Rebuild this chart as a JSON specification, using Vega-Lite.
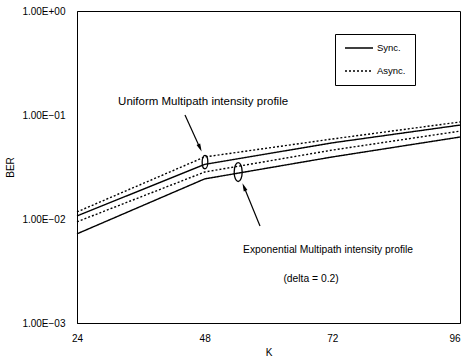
{
  "$schema": "https://vega.github.io/schema/vega-lite/v6.json",
  "width": 383,
  "height": 312,
  "autosize": {"type": "none"},
  "padding": {"left": 77, "top": 11, "right": 4, "bottom": 38},
  "background": "white",
  "config": {
    "font": "Liberation Sans",
    "view": {"stroke": "black", "strokeWidth": 1},
    "axis": {"domainColor": "black", "labelColor": "black", "titleColor": "black", "grid": false, "ticks": false, "labelFontSize": 10, "titleFontSize": 10, "titleFontWeight": "normal", "labelFlush": false}
  },
  "datasets": {
    "lines": [
      {"profile": "Uniform", "type": "Sync.", "K": 24, "BER": 0.0107},
      {"profile": "Uniform", "type": "Sync.", "K": 48, "BER": 0.0335},
      {"profile": "Uniform", "type": "Sync.", "K": 72, "BER": 0.054},
      {"profile": "Uniform", "type": "Sync.", "K": 96, "BER": 0.08},
      {"profile": "Uniform", "type": "Async.", "K": 24, "BER": 0.0117},
      {"profile": "Uniform", "type": "Async.", "K": 48, "BER": 0.0395},
      {"profile": "Uniform", "type": "Async.", "K": 72, "BER": 0.0588},
      {"profile": "Uniform", "type": "Async.", "K": 96, "BER": 0.0857},
      {"profile": "Exponential", "type": "Sync.", "K": 24, "BER": 0.0072},
      {"profile": "Exponential", "type": "Sync.", "K": 48, "BER": 0.0243},
      {"profile": "Exponential", "type": "Sync.", "K": 72, "BER": 0.0395},
      {"profile": "Exponential", "type": "Sync.", "K": 96, "BER": 0.0614},
      {"profile": "Exponential", "type": "Async.", "K": 24, "BER": 0.0094},
      {"profile": "Exponential", "type": "Async.", "K": 48, "BER": 0.0283},
      {"profile": "Exponential", "type": "Async.", "K": 72, "BER": 0.046},
      {"profile": "Exponential", "type": "Async.", "K": 96, "BER": 0.07}
    ],
    "labels": [
      {"K": 47.7, "BER": 0.1334, "label": "Uniform Multipath intensity profile"},
      {"K": 71.2, "BER": 0.00503, "label": "Exponential Multipath intensity profile"},
      {"K": 68.0, "BER": 0.00265, "label": "(delta = 0.2)"}
    ],
    "arrows": [
      {"K": 44.3, "BER": 0.1, "K2": 47.12, "BER2": 0.0482, "angle": 156},
      {"K": 58.4, "BER": 0.00857, "K2": 55.4, "BER2": 0.0203, "angle": 337}
    ],
    "ellipses": [
      {"K": 48.06, "BER": 0.0353, "size": 180},
      {"K": 54.3, "BER": 0.0283, "size": 360}
    ]
  },
  "layer": [
    {
      "data": {"name": "lines"},
      "mark": {"type": "line", "color": "black", "strokeWidth": 1.4},
      "encoding": {
        "x": {"field": "K", "type": "quantitative", "scale": {"domain": [24, 96], "nice": false, "zero": false}, "axis": {"values": [24, 48, 72, 96], "title": "K", "labelPadding": 10, "titlePadding": 4, "labelAlign": {"expr": "datum.value == 96 ? 'right' : 'center'"}}},
        "y": {"field": "BER", "type": "quantitative", "scale": {"type": "log", "domain": [0.001, 1], "nice": false}, "axis": {"values": [0.001, 0.01, 0.1, 1], "title": "BER", "labelPadding": 12, "titlePadding": 6, "labelExpr": "'1.00E' + (datum.value >= 0.5 ? '+00' : '\u22120' + format(-log(datum.value)/LN10, '.0f'))"}},
        "strokeDash": {"field": "type", "type": "nominal", "scale": {"domain": ["Sync.", "Async."], "range": [[1, 0], [2, 2]]},
          "legend": {"title": null, "orient": "none", "legendX": 258, "legendY": 23, "strokeColor": "black", "padding": 9, "rowPadding": 13, "clipHeight": 10, "symbolType": "stroke", "symbolSize": 784, "symbolStrokeColor": "black", "symbolStrokeWidth": 1.4, "labelFontSize": 9.5, "labelColor": "black", "labelOffset": 3}},
        "detail": {"field": "profile"}
      }
    },
    {
      "data": {"name": "labels"},
      "mark": {"type": "text", "color": "black", "align": "center", "baseline": "middle"},
      "encoding": {
        "x": {"field": "K", "type": "quantitative"},
        "y": {"field": "BER", "type": "quantitative"},
        "text": {"field": "label"},
        "size": {"condition": {"test": "datum.label == 'Uniform Multipath intensity profile'", "value": 11.5}, "value": 10.3}
      }
    },
    {
      "data": {"name": "arrows"},
      "mark": {"type": "rule", "color": "black", "strokeWidth": 1.2},
      "encoding": {
        "x": {"field": "K", "type": "quantitative"},
        "y": {"field": "BER", "type": "quantitative"},
        "x2": {"field": "K2"},
        "y2": {"field": "BER2"}
      }
    },
    {
      "data": {"name": "arrows"},
      "mark": {"type": "point", "shape": "M0,-1 L0.5,1 L-0.5,1 Z", "filled": true, "color": "black", "size": 64, "opacity": 1},
      "encoding": {
        "x": {"field": "K2", "type": "quantitative"},
        "y": {"field": "BER2", "type": "quantitative"},
        "angle": {"field": "angle", "type": "quantitative", "scale": null}
      }
    },
    {
      "data": {"name": "ellipses"},
      "mark": {"type": "point", "shape": "M0,-1 A0.42,1 0 1,1 0,1 A0.42,1 0 1,1 0,-1 Z", "filled": false, "color": "black", "strokeWidth": 1.3, "opacity": 1},
      "encoding": {
        "x": {"field": "K", "type": "quantitative"},
        "y": {"field": "BER", "type": "quantitative"},
        "size": {"field": "size", "type": "quantitative", "scale": null}
      }
    }
  ]
}
